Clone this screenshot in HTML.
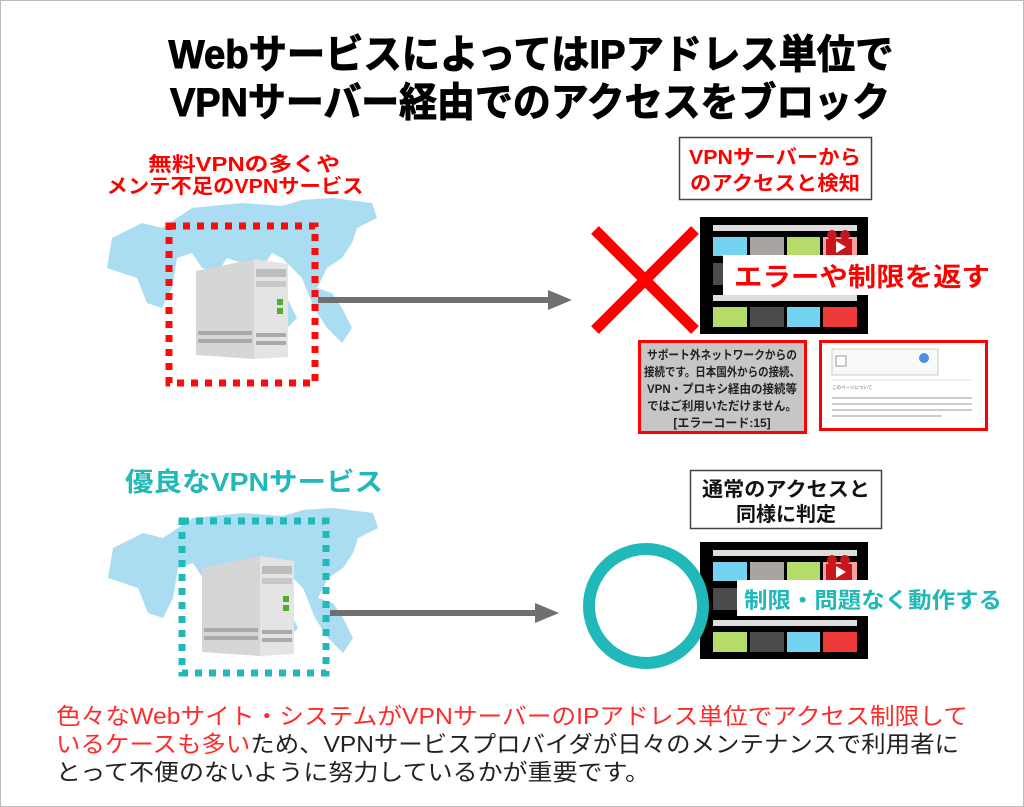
<!DOCTYPE html>
<html><head><meta charset="utf-8"><style>
html,body{margin:0;padding:0;background:#fff}
svg{display:block}
text{font-family:"Liberation Sans","Noto Sans CJK JP",sans-serif;font-weight:bold}
text.n{font-weight:normal}
</style></head><body>
<svg width="1024" height="807" viewBox="0 0 1024 807" xmlns="http://www.w3.org/2000/svg">
<defs>
<g id="map">
  <path d="M10,40 L40,25 L60,30 L90,10 L140,5 L180,8 L200,2 L230,0 L270,5 L275,20 L255,30 L250,45 L240,60 L225,70 L215,90 L230,95 L240,110 L250,130 L240,145 L225,130 L212,110 L200,80 L180,60 L170,55 L160,70 L150,80 L140,65 L125,60 L115,75 L100,70 L90,55 L75,60 L70,90 L60,110 L45,105 L35,80 L20,75 L5,70 Z" fill="#aadcf2"/>
  <path d="M160,110 L185,100 L195,120 L180,135 L165,128 Z" fill="#aadcf2"/>
</g>
<g id="server">
  <path d="M0,12 L58,0 L58,100 L0,96 Z" fill="#d6d6d6"/>
  <path d="M58,0 L92,5 L92,98 L58,100 Z" fill="#e4e4e4"/>
  <rect x="60" y="10" width="30" height="8" fill="#bdbdbd"/>
  <rect x="60" y="22" width="30" height="6" fill="#c8c8c8"/>
  <rect x="81" y="40" width="6" height="6" fill="#4caf2e"/>
  <rect x="81" y="49" width="6" height="6" fill="#4caf2e"/>
  <rect x="2" y="72" width="54" height="4" fill="#aaa"/>
  <rect x="2" y="80" width="54" height="4" fill="#aaa"/>
  <rect x="60" y="74" width="30" height="4" fill="#aaa"/>
  <rect x="60" y="82" width="30" height="4" fill="#aaa"/>
</g>
<g id="screen">
  <rect x="0" y="0" width="168" height="117" fill="#000"/>
  <rect x="13" y="8" width="144" height="6" fill="#ddd"/>
  <rect x="13" y="20" width="34" height="19" fill="#74d3f0"/>
  <rect x="50" y="20" width="34" height="19" fill="#a8a4a2"/>
  <rect x="87" y="20" width="33" height="19" fill="#b5dc6a"/>
  <rect x="123" y="20" width="34" height="19" fill="#f7a0a0"/>
  <rect x="126" y="22" width="26" height="16" fill="#c8161d"/>
  <circle cx="132" cy="18" r="5" fill="#c8161d"/><circle cx="145" cy="18" r="5" fill="#c8161d"/>
  <path d="M136,24 L146,30 L136,36 Z" fill="#fff"/>
  <rect x="13" y="46" width="34" height="22" fill="#4b4b4b"/>
  <rect x="13" y="78" width="144" height="6" fill="#ddd"/>
  <rect x="13" y="90" width="34" height="20" fill="#b5dc6a"/>
  <rect x="50" y="90" width="34" height="20" fill="#4b4b4b"/>
  <rect x="87" y="90" width="33" height="20" fill="#74d3f0"/>
  <rect x="123" y="90" width="34" height="20" fill="#f03a3a"/>
</g>
</defs>

<rect x="0.5" y="0.5" width="1023" height="806" fill="#fff" stroke="#bbb"/>

<text x="531" y="68" font-size="40" text-anchor="middle" textLength="725" lengthAdjust="spacingAndGlyphs" fill="#000" stroke="#000" stroke-width="1">WebサービスによってはIPアドレス単位で</text>
<text x="530" y="116" font-size="40" text-anchor="middle" textLength="720" lengthAdjust="spacingAndGlyphs" fill="#000" stroke="#000" stroke-width="1">VPNサーバー経由でのアクセスをブロック</text>

<!-- top left -->
<text x="244" y="171" font-size="20" text-anchor="middle" textLength="192" lengthAdjust="spacingAndGlyphs" fill="#ff0000">無料VPNの多くや</text>
<text x="235" y="193" font-size="20" text-anchor="middle" textLength="257" lengthAdjust="spacingAndGlyphs" fill="#ff0000">メンテ不足のVPNサービス</text>
<use href="#map" x="102" y="198"/>
<rect x="169" y="226" width="146" height="157" fill="none" stroke="#ff0a0a" stroke-width="7" stroke-dasharray="7,7"/>
<use href="#server" x="196" y="259"/>
<rect x="318" y="297" width="232" height="6" fill="#707070"/>
<path d="M548,290 L572,300 L548,310 Z" fill="#707070"/>

<!-- top right -->
<rect x="679.5" y="137.5" width="192" height="62" fill="#fff" stroke="#444" stroke-width="1.5"/>
<text x="775" y="164" font-size="20" text-anchor="middle" textLength="172" lengthAdjust="spacingAndGlyphs" fill="#ff0000">VPNサーバーから</text>
<text x="775" y="190" font-size="20" text-anchor="middle" textLength="170" lengthAdjust="spacingAndGlyphs" fill="#ff0000">のアクセスと検知</text>
<path d="M595,230 L695,330 M695,230 L595,330" stroke="#ff0000" stroke-width="11"/>
<use href="#screen" x="700" y="217"/>
<rect x="723" y="255" width="280" height="40" fill="#fff"/>
<text x="862" y="286" font-size="26" text-anchor="middle" textLength="256" lengthAdjust="spacingAndGlyphs" fill="#ff0000">エラーや制限を返す</text>

<rect x="639.5" y="341.5" width="166" height="91" fill="#c6c6c6" stroke="#ff0000" stroke-width="3"/>
<g font-size="12" fill="#222" text-anchor="middle">
<text x="722" y="359" textLength="150" lengthAdjust="spacingAndGlyphs">サポート外ネットワークからの</text>
<text x="722" y="376" textLength="156" lengthAdjust="spacingAndGlyphs">接続です。日本国外からの接続、</text>
<text x="722" y="393" textLength="150" lengthAdjust="spacingAndGlyphs">VPN・プロキシ経由の接続等</text>
<text x="722" y="410" textLength="150" lengthAdjust="spacingAndGlyphs">ではご利用いただけません。</text>
<text x="722" y="427">[エラーコード:15]</text>
</g>
<rect x="820.5" y="341.5" width="166" height="88" fill="#fff" stroke="#ff0000" stroke-width="3"/>
<rect x="832" y="349" width="106" height="26" fill="#f9f9f9" stroke="#ccc"/>
<rect x="836" y="356" width="10" height="10" fill="#fff" stroke="#999"/>
<circle cx="924" cy="358" r="5" fill="#4a90e2"/>
<line x1="832" y1="380" x2="972" y2="380" stroke="#ddd"/>
<text class="n" x="832" y="389" font-size="4.5" fill="#666">このページについて</text>
<rect x="832" y="397" width="140" height="2" fill="#ccc"/>
<rect x="832" y="403" width="140" height="2" fill="#ccc"/>
<rect x="832" y="409" width="140" height="2" fill="#ccc"/>
<rect x="832" y="415" width="110" height="2" fill="#ccc"/>

<!-- bottom left -->
<text x="254" y="491" font-size="26" text-anchor="middle" textLength="258" lengthAdjust="spacingAndGlyphs" fill="#20b8b8">優良なVPNサービス</text>
<use href="#map" x="103" y="508"/>
<rect x="182" y="521" width="144" height="152" fill="none" stroke="#20b8b8" stroke-width="7" stroke-dasharray="7,7"/>
<use href="#server" x="202" y="556"/>
<rect x="330" y="610" width="205" height="6" fill="#707070"/>
<path d="M535,603 L559,613 L535,623 Z" fill="#707070"/>

<!-- bottom right -->
<rect x="690.5" y="470.5" width="191" height="58" fill="#fff" stroke="#444" stroke-width="1.5"/>
<text x="786" y="496" font-size="20" text-anchor="middle" textLength="168" lengthAdjust="spacingAndGlyphs" fill="#111">通常のアクセスと</text>
<text x="786" y="521" font-size="20" text-anchor="middle" fill="#111">同様に判定</text>
<use href="#screen" x="700" y="542"/>
<rect x="737" y="580" width="280" height="36" fill="#fff"/>
<text x="873" y="608" font-size="22" text-anchor="middle" textLength="258" lengthAdjust="spacingAndGlyphs" fill="#20b8b8">制限・問題なく動作する</text>
<circle cx="646" cy="606" r="57" fill="none" stroke="#20b8b8" stroke-width="12"/>

<!-- bottom text -->
<text class="n" x="56" y="724" font-size="23" textLength="912" lengthAdjust="spacingAndGlyphs" fill="#ff2a2a">色々なWebサイト・システムがVPNサーバーのIPアドレス単位でアクセス制限して</text>
<text class="n" x="56" y="752" font-size="23" textLength="903" lengthAdjust="spacingAndGlyphs"><tspan fill="#ff2a2a">いるケースも多い</tspan><tspan fill="#222">ため、VPNサービスプロバイダが日々のメンテナンスで利用者に</tspan></text>
<text class="n" x="56" y="780" font-size="23" textLength="594" lengthAdjust="spacingAndGlyphs" fill="#222">とって不便のないように努力しているかが重要です。</text>
</svg>
</body></html>
